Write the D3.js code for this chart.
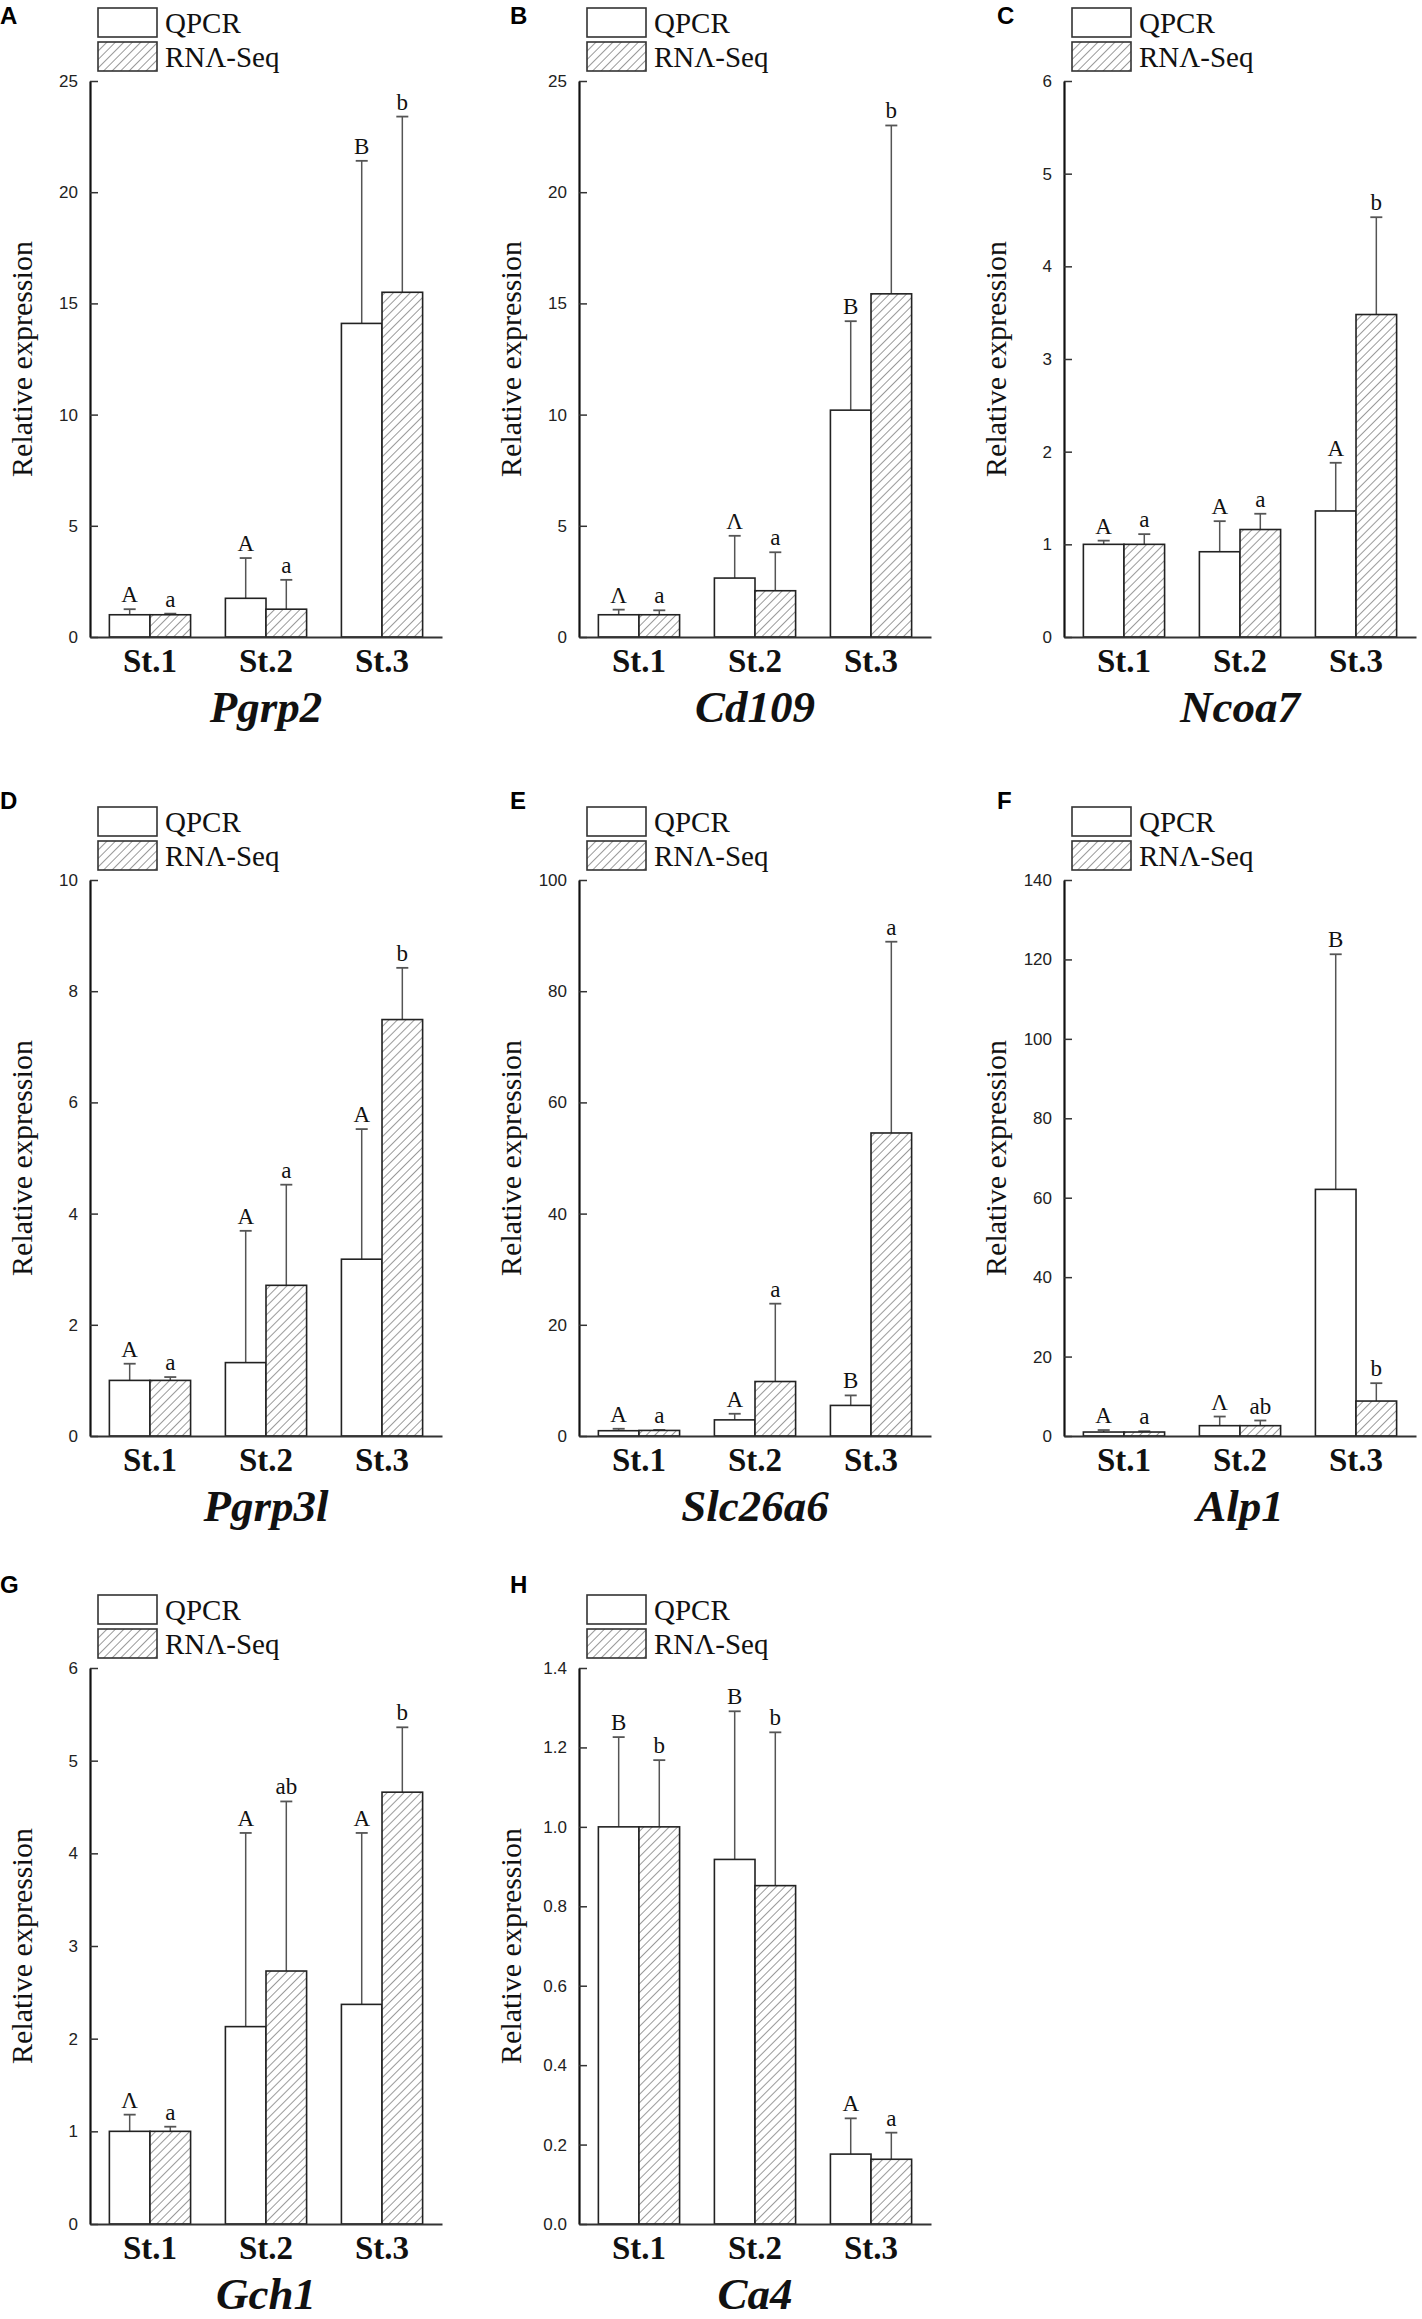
<!DOCTYPE html>
<html>
<head>
<meta charset="utf-8">
<script src="https://cdn.jsdelivr.net/npm/d3@7"></script>
<style>
  body { margin: 0; background: #fff; }
  svg { display: block; }
</style>
</head>
<body>
<div id="chart"></div>
<script>
// data
const panelLetters = ["A", "B", "C", "D", "E", "F", "G", "H"];
const genes = ["Pgrp2", "Cd109", "Ncoa7", "Pgrp3l", "Slc26a6", "Alp1", "Gch1", "Ca4"];
const stages = ["St.1", "St.2", "St.3"];
const seriesNames = ["QPCR", "RNΛ-Seq"];

const yMax = [25, 25, 6, 10, 100, 140, 6, 1.4];
const yStep = [5, 5, 1, 2, 20, 20, 1, 0.2];

const qpcrMean = [
  [1.0, 1.74, 14.1],
  [1.0, 2.65, 10.2],
  [1.0, 0.92, 1.36],
  [1.0, 1.32, 3.18],
  [0.95, 2.9, 5.5],
  [1.0, 2.6, 62.1],
  [1.0, 2.13, 2.37],
  [1.0, 0.918, 0.176]
];
const qpcrErr = [
  [0.25, 1.81, 7.31],
  [0.23, 1.9, 4.0],
  [0.04, 0.33, 0.52],
  [0.3, 2.37, 2.34],
  [0.35, 1.1, 1.8],
  [0.5, 2.3, 59.2],
  [0.18, 2.09, 1.85],
  [0.226, 0.373, 0.09]
];
const rnaMean = [
  [1.0, 1.25, 15.5],
  [1.0, 2.08, 15.43],
  [1.0, 1.16, 3.48],
  [1.0, 2.71, 7.49],
  [1.0, 9.8, 54.5],
  [1.0, 2.6, 8.8],
  [1.0, 2.73, 4.66],
  [1.0, 0.852, 0.163]
];
const rnaErr = [
  [0.05, 1.32, 7.9],
  [0.2, 1.73, 7.57],
  [0.11, 0.17, 1.05],
  [0.06, 1.81, 0.93],
  [0.1, 14.0, 34.4],
  [0.2, 1.3, 4.5],
  [0.05, 1.83, 0.7],
  [0.168, 0.386, 0.067]
];
const qpcrSig = [
  ["A", "A", "B"], ["Λ", "Λ", "B"], ["A", "A", "A"], ["A", "A", "A"],
  ["A", "A", "B"], ["A", "Λ", "B"], ["Λ", "A", "A"], ["B", "B", "A"]
];
const rnaSig = [
  ["a", "a", "b"], ["a", "a", "b"], ["a", "a", "b"], ["a", "a", "b"],
  ["a", "a", "a"], ["a", "ab", "b"], ["a", "ab", "b"], ["b", "b", "a"]
];

//--- layout ---//
const W = 1422, H = 2319;
const colAxisX = [90, 579, 1064];   // y-axis position per column
const colLetterX = [0, 510, 997];
const rowTop = [81, 880, 1668];     // top of y-axis per row
const rowLetterY = [24, 809, 1593];
const plotH = 556, plotW = 352;

const serif = "'Liberation Serif', 'Times New Roman', serif";
const sans = "'Liberation Sans', Arial, sans-serif";

const svg = d3.select("#chart").append("svg")
  .attr("width", W).attr("height", H)
  .attr("viewBox", `0 0 ${W} ${H}`);

// hatch for RNA-Seq bars
svg.append("defs").append("pattern")
  .attr("id", "hatch")
  .attr("patternUnits", "userSpaceOnUse")
  .attr("width", 6).attr("height", 6)
  .attr("patternTransform", "rotate(45)")
  .call(p => p.append("rect").attr("width", 6).attr("height", 6).attr("fill", "#fff"))
  .append("line")
  .attr("x1", 0).attr("y1", 0).attr("x2", 0).attr("y2", 6)
  .attr("stroke", "#555").attr("stroke-width", 1.2);

const x0 = d3.scaleBand().domain(stages).range([0, plotW])
  .paddingInner(0.3).paddingOuter(0.167);
const x1 = d3.scaleBand().domain([0, 1]).range([0, x0.bandwidth()]);

genes.forEach((gene, i) => {
  const col = i % 3, row = Math.floor(i / 3);
  const g = svg.append("g")
    .attr("transform", `translate(${colAxisX[col]},${rowTop[row]})`);

  // panel letter
  svg.append("text")
    .attr("x", colLetterX[col]).attr("y", rowLetterY[row])
    .attr("font-family", sans).attr("font-weight", "bold")
    .attr("font-size", 24).attr("fill", "#000")
    .text(panelLetters[i]);

  const y = d3.scaleLinear().domain([0, yMax[i]]).range([plotH, 0]);
  const ticks = d3.range(0, yMax[i] + yStep[i] / 2, yStep[i]);
  const fmt = yStep[i] < 1 ? d3.format(".1f") : d3.format("d");

  // y axis, ticks pointing inward
  const ya = g.append("g")
    .call(d3.axisLeft(y).tickValues(ticks).tickFormat(fmt)
      .tickSizeInner(-8).tickSizeOuter(0).tickPadding(12));
  ya.select(".domain").attr("stroke", "#111").attr("stroke-width", 2.2);
  ya.selectAll(".tick line").attr("stroke", "#333").attr("stroke-width", 1.5);
  ya.selectAll(".tick text")
    .attr("font-family", sans).attr("font-size", 17).attr("fill", "#222");

  // y label
  g.append("text")
    .attr("transform", `translate(-58,${plotH / 2}) rotate(-90)`)
    .attr("text-anchor", "middle")
    .attr("font-family", serif).attr("font-size", 30).attr("fill", "#111")
    .text("Relative expression");

  const rows = stages.map((s, j) => ({
    stage: s,
    vals: [
      { k: 0, v: qpcrMean[i][j], e: qpcrErr[i][j], sig: qpcrSig[i][j] },
      { k: 1, v: rnaMean[i][j], e: rnaErr[i][j], sig: rnaSig[i][j] }
    ]
  }));

  const grp = g.selectAll(".grp").data(rows).enter().append("g")
    .attr("transform", d => `translate(${x0(d.stage)},0)`);

  // error bars (upper only) + significance letters
  grp.selectAll(".err").data(d => d.vals).enter().append("g")
    .each(function (d) {
      const cx = x1(d.k) + x1.bandwidth() / 2;
      const sel = d3.select(this);
      sel.append("line")
        .attr("x1", cx).attr("x2", cx)
        .attr("y1", y(d.v)).attr("y2", y(d.v + d.e))
        .attr("stroke", "#555").attr("stroke-width", 1.5);
      sel.append("line")
        .attr("x1", cx - 6).attr("x2", cx + 6)
        .attr("y1", y(d.v + d.e)).attr("y2", y(d.v + d.e))
        .attr("stroke", "#555").attr("stroke-width", 1.8);
      sel.append("text")
        .attr("x", cx).attr("y", y(d.v + d.e) - 7)
        .attr("text-anchor", "middle")
        .attr("font-family", serif).attr("font-size", 23).attr("fill", "#111")
        .text(d.sig);
    });

  // bars
  grp.selectAll(".bar").data(d => d.vals).enter().append("rect")
    .attr("x", d => x1(d.k))
    .attr("y", d => y(d.v))
    .attr("width", x1.bandwidth())
    .attr("height", d => plotH - y(d.v))
    .attr("fill", d => d.k === 0 ? "#fff" : "url(#hatch)")
    .attr("stroke", "#222").attr("stroke-width", 1.6);

  // x axis
  const xa = g.append("g").attr("transform", `translate(0,${plotH})`)
    .call(d3.axisBottom(x0).tickSize(0).tickPadding(12));
  xa.select(".domain").attr("stroke", "#333").attr("stroke-width", 2);
  xa.selectAll(".tick text")
    .attr("font-family", serif).attr("font-weight", "bold")
    .attr("font-size", 33).attr("fill", "#111");

  // gene name
  g.append("text")
    .attr("x", plotW / 2).attr("y", plotH + 85)
    .attr("text-anchor", "middle")
    .attr("font-family", serif).attr("font-weight", "bold").attr("font-style", "italic")
    .attr("font-size", 45).attr("fill", "#111")
    .text(gene);

  // legend
  const lg = g.append("g").attr("transform", "translate(8,-73)");
  seriesNames.forEach((name, k) => {
    lg.append("rect")
      .attr("x", 0).attr("y", k * 34)
      .attr("width", 59).attr("height", 29)
      .attr("fill", k === 0 ? "#fff" : "url(#hatch)")
      .attr("stroke", "#333").attr("stroke-width", 1.6);
    lg.append("text")
      .attr("x", 67).attr("y", k * 34 + 25)
      .attr("font-family", serif).attr("font-size", 29).attr("fill", "#111")
      .text(name);
  });
});
</script>
</body>
</html>
